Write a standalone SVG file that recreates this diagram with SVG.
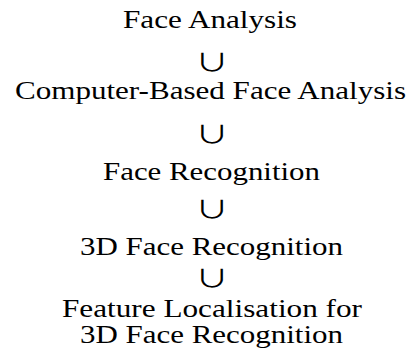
<svg xmlns="http://www.w3.org/2000/svg" width="411" height="354" viewBox="0 0 411 354">
<style>
.t{font-family:"Liberation Serif","DejaVu Serif",serif;font-size:25px;fill:#000}
.u{font-family:"Noto Sans CJK JP","DejaVu Sans",sans-serif;font-size:24px;fill:#000;text-anchor:middle}
</style>
<rect width="411" height="354" fill="#fff"/>
<g id="n1"><text class="t" x="123" y="28" textLength="174" lengthAdjust="spacingAndGlyphs">Face Analysis</text></g>
<g id="n2"><text class="t" x="15" y="99" textLength="391" lengthAdjust="spacingAndGlyphs">Computer-Based Face Analysis</text></g>
<g id="n3"><text class="t" x="103" y="180" textLength="217" lengthAdjust="spacingAndGlyphs">Face Recognition</text></g>
<g id="n4"><text class="t" x="80" y="255" textLength="263" lengthAdjust="spacingAndGlyphs">3D Face Recognition</text></g>
<g id="n5"><text class="t" x="62" y="317" textLength="300" lengthAdjust="spacingAndGlyphs">Feature Localisation for</text><text class="t" x="80" y="343" textLength="263" lengthAdjust="spacingAndGlyphs">3D Face Recognition</text></g>
<g id="connectors">
<text class="u" x="212" y="71" transform="translate(212 71) scale(1.4 1) translate(-212 -71)">∪</text>
<text class="u" x="212" y="143" transform="translate(212 143) scale(1.4 1) translate(-212 -143)">∪</text>
<text class="u" x="212" y="218" transform="translate(212 218) scale(1.4 1) translate(-212 -218)">∪</text>
<text class="u" x="212" y="287" transform="translate(212 287) scale(1.4 1) translate(-212 -287)">∪</text>
</g>
</svg>
